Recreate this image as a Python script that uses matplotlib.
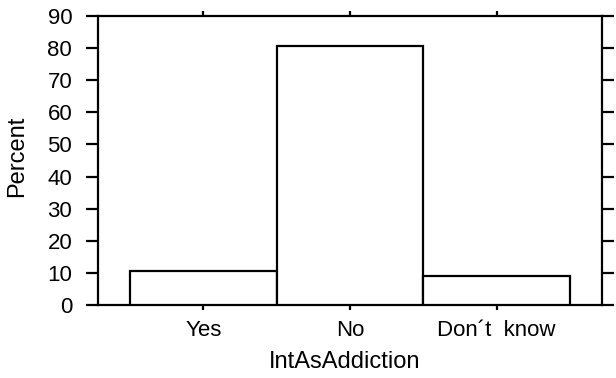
import matplotlib
matplotlib.use("Agg")
import matplotlib.pyplot as plt

categories = ["Yes", "No", "Don\u00b4t  know"]
percent = [10.7, 80.8, 9.1]
yticks = [0, 10, 20, 30, 40, 50, 60, 70, 80, 90]

plt.rcParams['font.family'] = ['Liberation Sans', 'DejaVu Sans']

fig = plt.figure(figsize=(6.16, 3.78), dpi=100)
ax = fig.add_axes([98/616, 1-305/378, 504/616, 289/378])

x = list(range(len(categories)))
ax.bar(x, percent, width=1.0, facecolor='white', edgecolor='black', linewidth=1.6, zorder=3)

ax.set_xlim(-0.72, 2.72)
ax.set_ylim(0, 90)
ax.set_yticks(yticks)
ax.set_yticklabels([str(v) for v in yticks], fontsize=16)
ax.set_xticks(x)
ax.set_xticklabels(categories, fontsize=16)

for s in ax.spines.values():
    s.set_linewidth(1.6)

ax.tick_params(axis='y', which='both', direction='out', length=8.6, width=1.6,
               left=True, right=True, labelleft=True, labelright=False, pad=10)
ax.tick_params(axis='x', which='both', direction='out', length=3.6, width=1.6,
               bottom=True, top=True, labelbottom=True, labeltop=False, pad=7.5)

ax.set_ylabel("Percent", fontsize=17)
ax.set_xlabel("IntAsAddiction", fontsize=17)
ax.yaxis.set_label_coords(-0.139, 0.514)
ax.xaxis.set_label_coords(0.49, -0.158)

fig.savefig("out.png", dpi=100)
